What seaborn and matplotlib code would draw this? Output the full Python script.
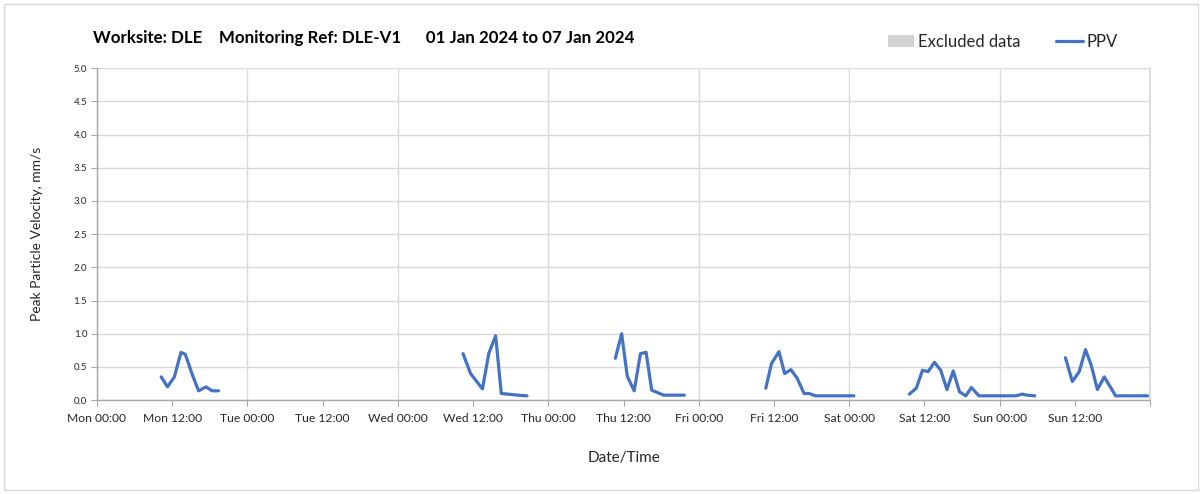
import numpy as np
import pandas as pd
import matplotlib
matplotlib.use("Agg")
import matplotlib.pyplot as plt
from matplotlib.patches import Patch, Rectangle
from matplotlib.lines import Line2D
import seaborn as sns

# hours after midnight of each day, PPV in mm/s
mon_hours = [10.25, 11.25, 12.35, 13.4, 14.1, 15.15, 16.2, 17.4, 18.35, 19.4]
mon_ppv = [0.35, 0.20, 0.35, 0.72, 0.69, 0.40, 0.14, 0.20, 0.14, 0.14]

wed_hours = [10.4, 11.6, 13.5, 14.5, 15.6, 16.5, 19.7, 20.6]
wed_ppv = [0.70, 0.40, 0.17, 0.70, 0.97, 0.10, 0.07, 0.065]

thu_hours = [10.7, 11.7, 12.6, 13.7, 14.7, 15.6, 16.5, 18.4, 21.7]
thu_ppv = [0.63, 1.00, 0.36, 0.14, 0.70, 0.72, 0.15, 0.075, 0.075]

fri_hours = [10.7, 11.6, 12.8, 13.7, 14.7, 15.7, 16.8, 17.6, 18.6, 24.75]
fri_ppv = [0.18, 0.55, 0.73, 0.40, 0.46, 0.33, 0.10, 0.10, 0.065, 0.065]

sat_hours = [9.6, 10.7, 11.7, 12.6, 13.6, 14.6, 15.6, 16.6, 17.6, 18.6, 19.5, 20.7,
             26.6, 27.6, 28.4, 29.6]
sat_ppv = [0.09, 0.18, 0.45, 0.43, 0.57, 0.45, 0.16, 0.44, 0.125, 0.065, 0.19, 0.065,
           0.065, 0.09, 0.075, 0.065]

sun_hours = [10.5, 11.6, 12.7, 13.7, 14.6, 15.6, 16.7, 18.5, 23.6]
sun_ppv = [0.64, 0.28, 0.43, 0.76, 0.53, 0.16, 0.35, 0.065, 0.065]

day_names = ["Mon", "Tue", "Wed", "Thu", "Fri", "Sat", "Sun"]
segments = [(0, mon_hours, mon_ppv), (2, wed_hours, wed_ppv), (3, thu_hours, thu_ppv),
            (4, fri_hours, fri_ppv), (5, sat_hours, sat_ppv), (6, sun_hours, sun_ppv)]

rows = []
for seg, (day, hrs, vals) in enumerate(segments):
    for h, v in zip(hrs, vals):
        rows.append({"day": day + h / 24.0, "ppv": v, "seg": seg})
df = pd.DataFrame(rows)

sns.set_theme(style="white")
plt.rcParams["font.family"] = ["Lato", "DejaVu Sans"]

BLUE = "#4472C4"
GRID = "#D9D9D9"
TXT = "#262626"

fig = plt.figure(figsize=(12.03, 4.94), dpi=100)
ax = fig.add_axes([0.0806, 0.19, 0.8754, 0.672])

sns.lineplot(data=df, x="day", y="ppv", units="seg", estimator=None,
             color=BLUE, linewidth=2.3, ax=ax, legend=False)

ax.set_xlim(0, 7)
ax.set_ylim(0, 5)

ax.set_yticks(np.arange(0, 5.01, 0.5))
ax.set_yticklabels([f"{v:.1f}" for v in np.arange(0, 5.01, 0.5)], fontsize=7, color=TXT)

ax.set_xticks(np.arange(0, 7.01, 1.0))
ax.set_xticks(np.arange(0.5, 7, 1.0), minor=True)
ax.set_xticklabels([f"{d} 00:00" for d in day_names] + [""], fontsize=8.7, color=TXT)
ax.set_xticklabels([f"{d} 12:00" for d in day_names], minor=True, fontsize=8.7, color=TXT)

ax.tick_params(axis="x", which="both", direction="out", length=4, width=0.8,
               color="#A6A6A6", pad=5, bottom=True)
ax.tick_params(axis="y", direction="out", length=4, width=0.8, color="#A6A6A6", pad=3, left=True)

ax.grid(axis="y", color=GRID, linewidth=1.0)
ax.grid(axis="x", which="major", color=GRID, linewidth=1.0)
ax.set_axisbelow(True)

for side in ["left", "bottom"]:
    ax.spines[side].set_color("#A6A6A6")
    ax.spines[side].set_linewidth(1.0)
ax.spines["right"].set_color(GRID)
ax.spines["top"].set_visible(False)

ax.set_xlabel("Date/Time", fontsize=11, color=TXT, labelpad=20)
ax.set_ylabel("Peak Particle Velocity, mm/s", fontsize=10, color=TXT, labelpad=22)

fig.text(93 / 1203, 1 - 38 / 494,
         "Worksite: DLE    Monitoring Ref: DLE-V1      01 Jan 2024 to 07 Jan 2024",
         fontsize=12.2, fontweight="bold", color="black", va="center", ha="left")

handles = [Patch(facecolor="#D3D3D3", edgecolor="none", label="Excluded data"),
           Line2D([0], [0], color=BLUE, linewidth=2.3, label="PPV")]
fig.legend(handles=handles, ncol=2, loc="center right", frameon=False,
           bbox_to_anchor=(1133 / 1203, 1 - 42 / 494), fontsize=12,
           handlelength=1.6, handletextpad=0.25, columnspacing=2.1, handleheight=0.75,
           labelcolor=TXT)

fig.patches.append(Rectangle((4 / 1203, 4 / 494), 1194 / 1203, 486 / 494,
                             transform=fig.transFigure, fill=False,
                             edgecolor=GRID, linewidth=1.0))

fig.savefig("out.png", dpi=100)
